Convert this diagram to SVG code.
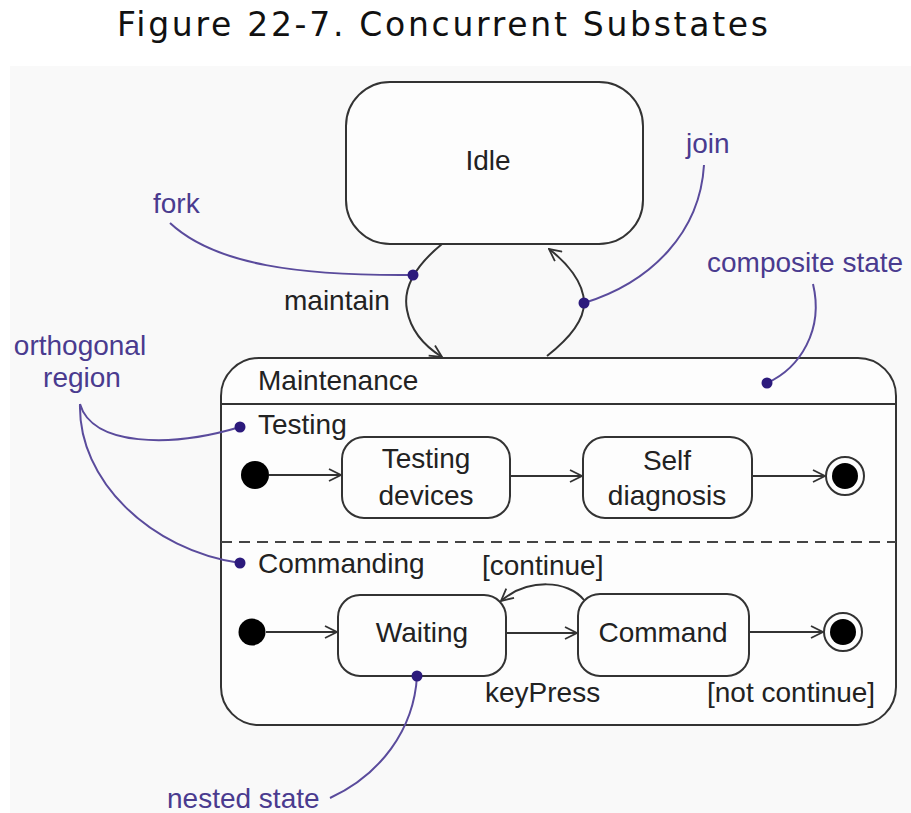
<svg xmlns="http://www.w3.org/2000/svg" width="911" height="813" viewBox="0 0 911 813">
  <style>
    .state { fill: #fdfdfd; stroke: #333; stroke-width: 2; }
    .lbl { font-family: "Liberation Sans", Arial, sans-serif; font-size: 28px; fill: #222; }
    .mid { text-anchor: middle; }
    .note { font-family: "Liberation Sans", Arial, sans-serif; font-size: 28px; fill: #4a3b8f; }
    .edge { fill: none; stroke: #333; stroke-width: 2; }
    .lead { fill: none; stroke: #5a4b9c; stroke-width: 2; }
    .pin { fill: #2c1a7c; }
    .init { fill: #000; }
  </style>
  <defs>
    <marker id="open" viewBox="0 0 14 14" refX="13" refY="7" markerWidth="14" markerHeight="14" markerUnits="userSpaceOnUse" orient="auto">
      <path d="M1,1 L13,7 L1,13" fill="none" stroke="#333" stroke-width="1.8"/>
    </marker>
  </defs>

  <!-- page -->
  <rect x="0" y="0" width="911" height="813" fill="#ffffff"/>
  <rect x="10" y="66" width="901" height="747" fill="#f9f9f9"/>

  <text x="117" y="36" font-family="'DejaVu Sans', 'Liberation Sans', sans-serif" font-size="33" fill="#111" textLength="651" lengthAdjust="spacing">Figure 22-7. Concurrent Substates</text>

  <!-- Idle -->
  <g id="idle">
    <rect class="state" x="346" y="82" width="297" height="162" rx="44"/>
    <text class="lbl mid" x="488" y="170">Idle</text>
  </g>

  <!-- Maintenance composite state -->
  <g id="maintenance">
    <rect class="state" x="221" y="358" width="675" height="367" rx="38"/>
    <line x1="221" y1="404" x2="896" y2="404" stroke="#333" stroke-width="2"/>
    <line x1="221" y1="542" x2="896" y2="542" stroke="#444" stroke-width="2" stroke-dasharray="11 7"/>
    <text class="lbl" x="258" y="390">Maintenance</text>
    <text class="lbl" x="258" y="434">Testing</text>
    <text class="lbl" x="258" y="573">Commanding</text>
  </g>

  <!-- Testing region -->
  <g id="testing-initial">
    <circle class="init" cx="255" cy="475" r="14"/>
  </g>
  <g id="testing-devices">
    <rect class="state" x="342" y="437" width="168" height="81" rx="22"/>
    <text class="lbl mid" x="426" y="468">Testing</text>
    <text class="lbl mid" x="426" y="505">devices</text>
  </g>
  <g id="self-diagnosis">
    <rect class="state" x="583" y="437" width="169" height="81" rx="22"/>
    <text class="lbl mid" x="667" y="470">Self</text>
    <text class="lbl mid" x="667" y="505">diagnosis</text>
  </g>
  <g id="testing-final">
    <circle cx="845" cy="476" r="19" fill="#fdfdfd" stroke="#333" stroke-width="2"/>
    <circle class="init" cx="845" cy="476" r="13"/>
  </g>

  <!-- Commanding region -->
  <g id="commanding-initial">
    <circle class="init" cx="252" cy="632" r="13.5"/>
  </g>
  <g id="waiting">
    <rect class="state" x="338" y="595" width="168" height="81" rx="22"/>
    <text class="lbl mid" x="422" y="642">Waiting</text>
  </g>
  <g id="command">
    <rect class="state" x="578" y="594" width="171" height="82" rx="22"/>
    <text class="lbl mid" x="663" y="642">Command</text>
  </g>
  <g id="commanding-final">
    <circle cx="843" cy="632" r="19" fill="#fdfdfd" stroke="#333" stroke-width="2"/>
    <circle class="init" cx="843" cy="632" r="13"/>
  </g>

  <!-- transitions -->
  <g id="connectors">
    <path class="edge" d="M442 244 C420 262, 402 285, 407 310 C411 332, 426 347, 442 357" marker-end="url(#open)"/>
    <path class="edge" d="M547 356 C570 338, 584 320, 584 303 C584 282, 566 262, 549 249" marker-end="url(#open)"/>
    <path class="edge" d="M269 475 L341 475" marker-end="url(#open)"/>
    <path class="edge" d="M510 476 L582 476" marker-end="url(#open)"/>
    <path class="edge" d="M752 476 L825 476" marker-end="url(#open)"/>
    <path class="edge" d="M266 632 L337 632" marker-end="url(#open)"/>
    <path class="edge" d="M506 633 L577 633" marker-end="url(#open)"/>
    <path class="edge" d="M749 632 L823 632" marker-end="url(#open)"/>
    <path class="edge" d="M584 600 C568 580, 528 578, 501 601" marker-end="url(#open)"/>
    <text class="lbl" x="284" y="310">maintain</text>
    <text class="lbl" x="482" y="575">[continue]</text>
    <text class="lbl" x="485" y="702">keyPress</text>
    <text class="lbl" x="707" y="702">[not continue]</text>
  </g>

  <!-- annotations -->
  <g id="note-fork">
    <text class="note" x="153" y="213">fork</text>
    <path class="lead" d="M170 223 C215 265, 300 276, 413 275"/>
    <circle class="pin" cx="413" cy="275" r="5.5"/>
  </g>
  <g id="note-join">
    <text class="note" x="686" y="153">join</text>
    <path class="lead" d="M704 165 C700 232, 652 282, 584 303"/>
    <circle class="pin" cx="584" cy="303" r="5.5"/>
  </g>
  <g id="note-composite">
    <text class="note" x="707" y="272">composite state</text>
    <path class="lead" d="M813 284 C824 330, 800 368, 767 383"/>
    <circle class="pin" cx="767" cy="383" r="5.5"/>
  </g>
  <g id="note-orthogonal">
    <text class="note mid" x="80" y="355">orthogonal</text>
    <text class="note mid" x="82" y="387">region</text>
    <path class="lead" d="M80 404 C92 446, 170 448, 240 427"/>
    <path class="lead" d="M80 404 C78 480, 150 550, 240 563"/>
    <circle class="pin" cx="240" cy="427" r="5.5"/>
    <circle class="pin" cx="240" cy="563" r="5.5"/>
  </g>
  <g id="note-nested">
    <text class="note" x="167" y="808">nested state</text>
    <path class="lead" d="M417 676 C414 730, 380 775, 330 798"/>
    <circle class="pin" cx="417" cy="676" r="5.5"/>
  </g>
</svg>
